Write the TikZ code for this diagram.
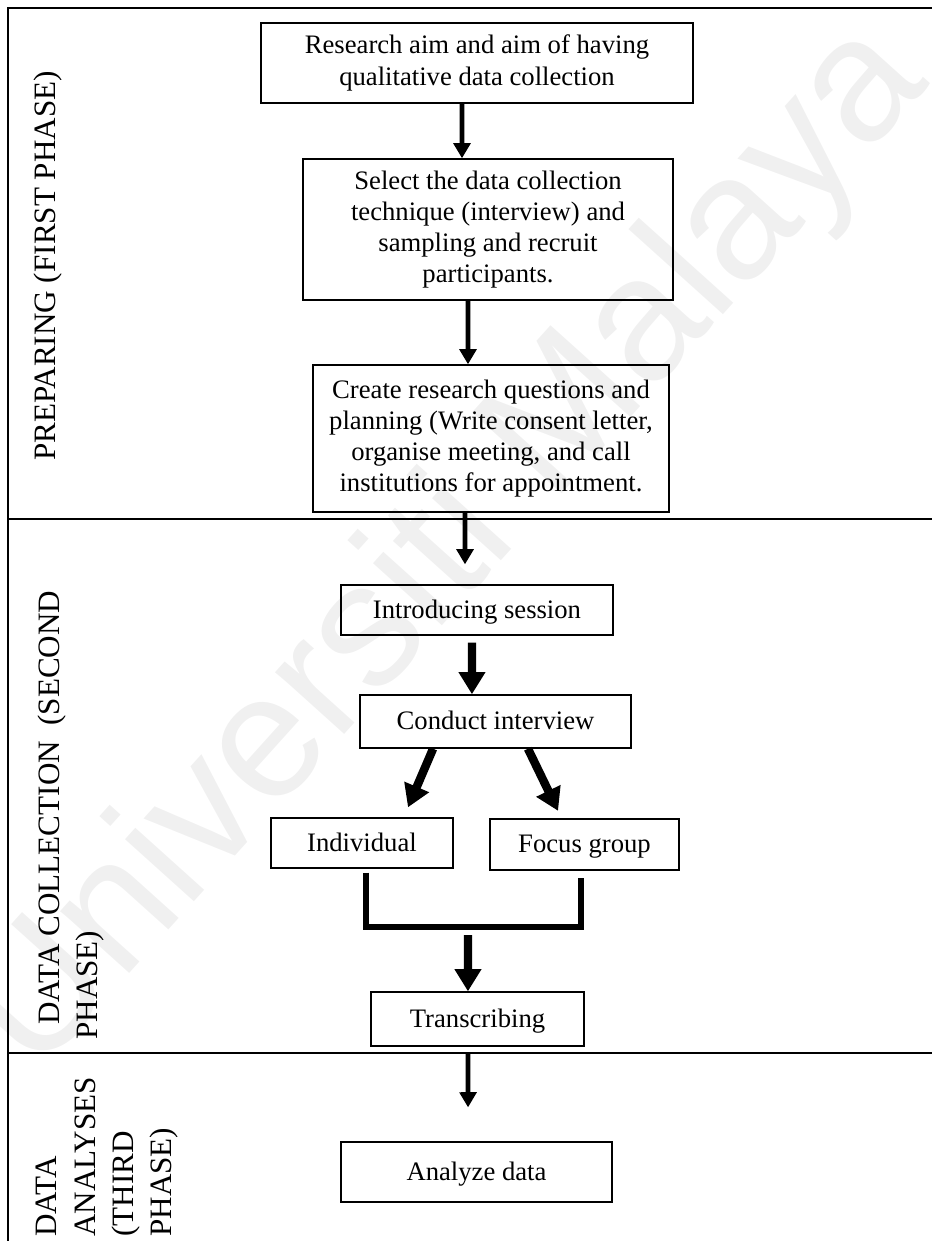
\documentclass[tikz,border=0pt]{standalone}
\usepackage{fontspec}
\setmainfont{Liberation Serif}
\newfontfamily\wmfont{Liberation Sans}
\usetikzlibrary{arrows.meta}

\tikzset{
  box/.style={draw, line width=0.6pt, inner sep=0pt, align=center,
    font=\fontsize{12}{14}\selectfont},
  heavybox/.style={box, line width=1pt},
  oneline/.style={text height=10pt, text depth=2.4pt},
  flow/.style={line width=2.2pt, -{Triangle[width=7.5pt,length=6.8pt]}},
  bigflow/.style={line width=3.8pt, -{Triangle[width=11.5pt,length=10pt]}},
  merger/.style={line width=2.4pt},
  rule/.style={line width=0.9pt},
  phaselabel/.style={rotate=90, inner sep=0pt, font=\fontsize{14}{16.6}\selectfont},
  watermark/.style={rotate=48, text=black!6, inner sep=0pt,
    font=\wmfont\fontsize{79}{79}\selectfont}
}

\begin{document}
\begin{tikzpicture}[x=0.45pt, y=-0.45pt]
\useasboundingbox (0,0) rectangle (932,1241);

% faint watermark behind everything
\node[watermark] (wm) at (450,550) {Universiti Malaya};

% table frame and phase dividers
\coordinate (tl) at (8,8);
\coordinate (tr) at (932,8);
\coordinate (bl) at (8,1241);
\coordinate (d1l) at (8,519);
\coordinate (d1r) at (932,519);
\coordinate (d2l) at (8,1053);
\coordinate (d2r) at (932,1053);
\draw[rule] (tr) -- (tl) -- (bl);
\draw[rule] (d1l) -- (d1r);
\draw[rule] (d2l) -- (d2r);

% phase labels
\node[phaselabel, anchor=base] (lab1) at (55,266) {PREPARING (FIRST PHASE)};
\node[phaselabel, anchor=base west] (lab2a) at (59,1025) {DATA COLLECTION\ \ (SECOND};
\node[phaselabel, anchor=base west] (lab2b) at (97,1040) {PHASE)};
\node[phaselabel, anchor=base west] (lab3a) at (57,1237) {DATA};
\node[phaselabel, anchor=base west] (lab3b) at (95,1237) {ANALYSES};
\node[phaselabel, anchor=base west] (lab3c) at (133,1237) {(THIRD};
\node[phaselabel, anchor=base west] (lab3d) at (171,1237) {PHASE)};

% process boxes
\node[heavybox, minimum width=194.4pt, minimum height=36pt] (b1) at (477,63)
  {Research aim and aim of having\\qualitative data collection};
\node[box, minimum width=166.5pt, minimum height=63.5pt] (b2) at (488,229.5)
  {Select the data collection\\technique (interview) and\\sampling and recruit\\participants.};
\node[box, minimum width=160.2pt, minimum height=66.2pt] (b3) at (491,438.5)
  {Create research questions and\\planning (Write consent letter,\\organise meeting, and call\\institutions for appointment.};
\node[box, oneline, minimum width=122.4pt, minimum height=22.5pt] (b4) at (477,610) {Introducing session};
\node[box, oneline, minimum width=122pt, minimum height=23.9pt] (b5) at (495.5,721.5) {Conduct interview};
\node[box, oneline, minimum width=81.9pt, minimum height=22.5pt] (b6) at (362,843) {Individual};
\node[heavybox, oneline, minimum width=85pt, minimum height=23pt] (b7) at (584.5,844.5) {Focus group};
\node[box, oneline, minimum width=95.9pt, minimum height=24.3pt] (b8) at (477.5,1019) {Transcribing};
\node[box, oneline, minimum width=122pt, minimum height=27pt] (b9) at (476.5,1172) {Analyze data};

% junction where the two interview branches meet
\coordinate (merge) at (473,927);

% connectors
\draw[flow] ([xshift=-6.75pt]b1.south) -- ([xshift=-11.7pt]b2.north);
\draw[flow] ([xshift=-9pt]b2.south) -- ([xshift=-10.35pt]b3.north);
\draw[flow] ([xshift=-11.7pt]b3.south) -- ([xshift=-5.4pt,yshift=9pt]b4.north);
\draw[bigflow] ([xshift=-2.25pt,yshift=-3.15pt]b4.south) -- ([xshift=-10.6pt]b5.north);
\draw[bigflow] ([xshift=-28.1pt]b5.south) -- ([xshift=20.7pt,yshift=4.5pt]b6.north);
\draw[bigflow] ([xshift=14.6pt]b5.south) -- ([xshift=-11.9pt,yshift=3.15pt]b7.north);
\draw[merger] ([xshift=1.8pt,yshift=-1.8pt]b6.south) |- (merge) -| ([xshift=-1.6pt,yshift=-3.15pt]b7.south);
\draw[bigflow] ([xshift=-2.25pt,yshift=-3.6pt]merge) -- ([xshift=-4.3pt]b8.north);
\draw[flow] ([xshift=-4.3pt,yshift=-3.15pt]b8.south) -- ([xshift=-3.8pt,yshift=15.3pt]b9.north);
\end{tikzpicture}
\end{document}
